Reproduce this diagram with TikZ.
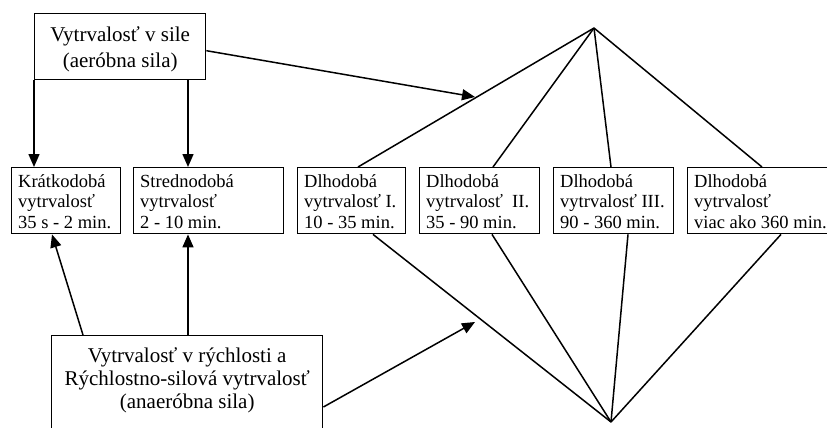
\documentclass[tikz,border=0pt]{standalone}
\usepackage{fontspec}
\setmainfont{Liberation Serif}
\usetikzlibrary{arrows.meta,calc}
\newcommand{\lbox}[2]{\makebox[#1][l]{\begin{tabular}[t]{@{}l@{}}#2\end{tabular}}}
\newcommand{\cbox}[2]{\makebox[#1][c]{\begin{tabular}[t]{@{}c@{}}#2\end{tabular}}}
\begin{document}
\begin{tikzpicture}[x=1pt,y=-1pt,
  box/.style={draw, line width=1.4pt, inner ysep=0pt, anchor=north west},
  small/.style={box, inner xsep=6.5pt, text height=19.5pt, text depth=46.5pt, font=\fontsize{18.5}{20.5}\selectfont},
  big/.style={box, inner xsep=0pt},
  link/.style={line width=1.5pt},
  arr/.style={link, -{Triangle[length=13pt,width=11pt]}}]
\clip (0,0) rectangle (827,428);
\fill[white] (0,0) rectangle (827,428);
% top box
\node[big, text height=28pt, text depth=38pt, font=\fontsize{21}{26}\selectfont] (topbox) at (34,13)
  {\cbox{171pt}{Vytrvalosť v sile\\(aeróbna sila)}};
% small boxes
\node[small] (box1) at (11,167) {\lbox{96pt}{Krátkodobá\\vytrvalosť\\35 s - 2 min.}};
\node[small] (box2) at (133,167) {\lbox{137pt}{Strednodobá\\vytrvalosť\\2 - 10 min.}};
\node[small] (box3) at (297,167) {\lbox{95pt}{Dlhodobá\\vytrvalosť I.\\10 - 35 min.}};
\node[small] (box4) at (419,167) {\lbox{107pt}{Dlhodobá\\vytrvalosť\enspace II.\\35 - 90 min.}};
\node[small] (box5) at (553,167) {\lbox{107pt}{Dlhodobá\\vytrvalosť III.\\90 - 360 min.}};
\node[small] (box6) at (687,167) {\lbox{141pt}{Dlhodobá\\vytrvalosť\\viac ako 360 min.}};
% bottom box
\node[big, text height=27pt, text depth=150pt, font=\fontsize{21}{22.7}\selectfont] (anaer) at (51,335)
  {\cbox{271pt}{Vytrvalosť v rýchlosti a\\Rýchlostno-silová vytrvalosť\\(anaeróbna sila)}};
% apexes and arrow tips
\coordinate (apexT) at (594,28);
\coordinate (apexB) at (611,422);
\coordinate (tipT) at (475,97);
\coordinate (tipB) at (475,322);
% arrows from top box
\draw[arr] (topbox.south west) -- (topbox.south west |- box1.north);
\draw[arr] ([xshift=154pt]topbox.south west) coordinate (t2) -- (t2 |- box2.north);
\draw[arr] ([yshift=-4pt]topbox.east) -- (tipT);
% arrows from bottom box
\draw[arr] ([xshift=32pt]anaer.north west) -- ([xshift=41pt]box1.south west);
\draw[arr] ([xshift=137pt]anaer.north west) -- ([xshift=55pt]box2.south west);
\draw[arr] ([yshift=-72pt]anaer.north east) -- (tipB);
% top fan
\draw[link] (apexT) -- ([xshift=61pt]box3.north west);
\draw[link] (apexT) -- ([xshift=74pt]box4.north west);
\draw[link] (apexT) -- ([xshift=58pt]box5.north west);
\draw[link] (apexT) -- ([xshift=75pt]box6.north west);
% bottom fan
\draw[link] (apexB) -- ([xshift=76pt]box3.south west);
\draw[link] (apexB) -- ([xshift=73pt]box4.south west);
\draw[link] (apexB) -- ([xshift=75pt]box5.south west);
\draw[link] (apexB) -- ([xshift=94pt]box6.south west);
\end{tikzpicture}
\end{document}
